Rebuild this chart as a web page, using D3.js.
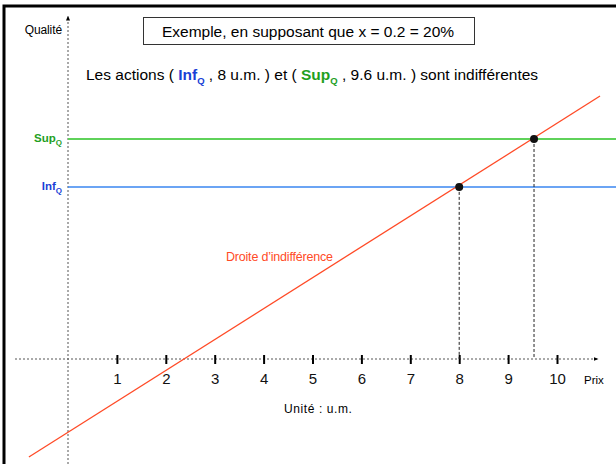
<!DOCTYPE html>
<html>
<head>
<meta charset="utf-8">
<script src="https://cdn.jsdelivr.net/npm/d3@7"></script>
<style>
  body { margin: 0; background: #fff; }
  svg { display: block; font-family: "Liberation Sans", Arial, sans-serif; }
</style>
</head>
<body>
<div id="chart"></div>
<script>
// chart dimensions
const width = 616;
const height = 464;

// data
const priceTicks = [1, 2, 3, 4, 5, 6, 7, 8, 9, 10];
const levelNames = ["Inf", "Sup"];
const levelColors = ["#1a3fd6", "#1fa01f"];
const levelLineColors = ["#3a86f0", "#5fd25a"];
const levelQuality = [5.57, 7.12];
const levelPrice = [8, 9.53];
// indifference line, (price, quality) end points
const linePrice = [-0.8, 10.88];
const lineQuality = [-3.17, 8.51];

const svg = d3.select("#chart").append("svg")
  .attr("width", width)
  .attr("height", height);

const x = d3.scaleLinear().domain([0, 10]).range([68, 557]);
const y = d3.scaleLinear().domain([0, 10]).range([359, 50]);

// frame
svg.append("rect")
  .attr("x", 4).attr("y", 6)
  .attr("width", 800).attr("height", 800)
  .attr("fill", "none")
  .attr("stroke", "#000")
  .attr("stroke-width", 3);

// arrow marker
svg.append("defs").append("marker")
  .attr("id", "arrow")
  .attr("viewBox", "0 0 10 10")
  .attr("refX", 9).attr("refY", 5)
  .attr("markerWidth", 5).attr("markerHeight", 5)
  .attr("orient", "auto")
  .append("path")
  .attr("d", "M0,1L10,5L0,9Z")
  .attr("fill", "#000");

// y axis (dashed)
svg.append("line")
  .attr("x1", x(0)).attr("x2", x(0))
  .attr("y1", height).attr("y2", 16)
  .attr("stroke", "#555")
  .attr("stroke-dasharray", "2,2")
  .attr("marker-end", "url(#arrow)");

svg.append("text")
  .attr("x", 62).attr("y", 34)
  .attr("text-anchor", "end")
  .attr("font-size", 12)
  .attr("letter-spacing", -0.1)
  .text("Qualité");

// x axis (dashed)
svg.append("line")
  .attr("x1", 15).attr("x2", 598)
  .attr("y1", y(0)).attr("y2", y(0))
  .attr("stroke", "#555")
  .attr("stroke-dasharray", "2,2")
  .attr("marker-end", "url(#arrow)");

const xAxis = svg.append("g")
  .attr("transform", `translate(0,${y(0)})`)
  .call(d3.axisBottom(x).tickValues(priceTicks).tickSize(0).tickPadding(14))
  .call(g => g.select(".domain").remove());

xAxis.selectAll(".tick text")
  .attr("font-size", 15)
  .attr("font-family", "Liberation Sans, Arial, sans-serif")
  .attr("fill", "#111");

xAxis.selectAll(".tick").append("line")
  .attr("y1", -4).attr("y2", 5)
  .attr("stroke", "#000")
  .attr("stroke-width", 2);

svg.append("text")
  .attr("x", 584).attr("y", 384)
  .attr("font-size", 11.5)
  .text("Prix");

svg.append("text")
  .attr("x", 284).attr("y", 413)
  .attr("font-size", 12)
  .attr("letter-spacing", 0.6)
  .text("Unité : u.m.");

// quality levels
levelNames.forEach((name, i) => {
  svg.append("line")
    .attr("x1", x(0)).attr("x2", width)
    .attr("y1", y(levelQuality[i])).attr("y2", y(levelQuality[i]))
    .attr("stroke", levelLineColors[i])
    .attr("stroke-width", i === 1 ? 2 : 1.5);

  const lab = svg.append("text")
    .attr("x", 62).attr("y", y(levelQuality[i]) + 3)
    .attr("text-anchor", "end")
    .attr("font-size", 11.5)
    .attr("font-weight", "bold")
    .attr("fill", levelColors[i]);
  lab.append("tspan").text(name);
  lab.append("tspan").attr("font-size", 8).attr("dy", 3).text("Q");

  // dashed drop to the price axis
  svg.append("line")
    .attr("x1", x(levelPrice[i])).attr("x2", x(levelPrice[i]))
    .attr("y1", y(levelQuality[i])).attr("y2", y(0))
    .attr("stroke", "#222")
    .attr("stroke-dasharray", "3,2");
});

// indifference line
svg.append("line")
  .attr("x1", x(linePrice[0])).attr("y1", y(lineQuality[0]))
  .attr("x2", x(linePrice[1])).attr("y2", y(lineQuality[1]))
  .attr("stroke", "#ff4a26")
  .attr("stroke-width", 1.3);

svg.append("text")
  .attr("x", 226).attr("y", 261)
  .attr("font-size", 12.5)
  .attr("fill", "#ff4a26")
  .attr("letter-spacing", -0.2)
  .text("Droite d’indifférence");

// points
svg.selectAll("circle.pt")
  .data(levelPrice)
  .join("circle")
  .attr("class", "pt")
  .attr("cx", d => x(d))
  .attr("cy", (d, i) => y(levelQuality[i]))
  .attr("r", 4)
  .attr("fill", "#111");

// title box
svg.append("rect")
  .attr("x", 143.5).attr("y", 17.5)
  .attr("width", 331).attr("height", 27)
  .attr("fill", "#fff")
  .attr("stroke", "#333");

svg.append("text")
  .attr("x", 308).attr("y", 37)
  .attr("text-anchor", "middle")
  .attr("font-size", 15.5)
  .text("Exemple, en supposant que x = 0.2 = 20%");

// sentence
const s = svg.append("text")
  .attr("x", 86).attr("y", 80)
  .attr("font-size", 15.5);
s.append("tspan").text("Les actions ( ");
s.append("tspan").attr("font-weight", "bold").attr("fill", levelColors[0]).text("Inf");
s.append("tspan").attr("font-weight", "bold").attr("fill", levelColors[0]).attr("font-size", 9.5).attr("dy", 4).text("Q");
s.append("tspan").attr("dy", -4).text(" , 8 u.m. ) et ( ");
s.append("tspan").attr("font-weight", "bold").attr("fill", levelColors[1]).text("Sup");
s.append("tspan").attr("font-weight", "bold").attr("fill", levelColors[1]).attr("font-size", 9.5).attr("dy", 4).text("Q");
s.append("tspan").attr("dy", -4).text(" , 9.6 u.m. ) sont indifférentes");
</script>
</body>
</html>
